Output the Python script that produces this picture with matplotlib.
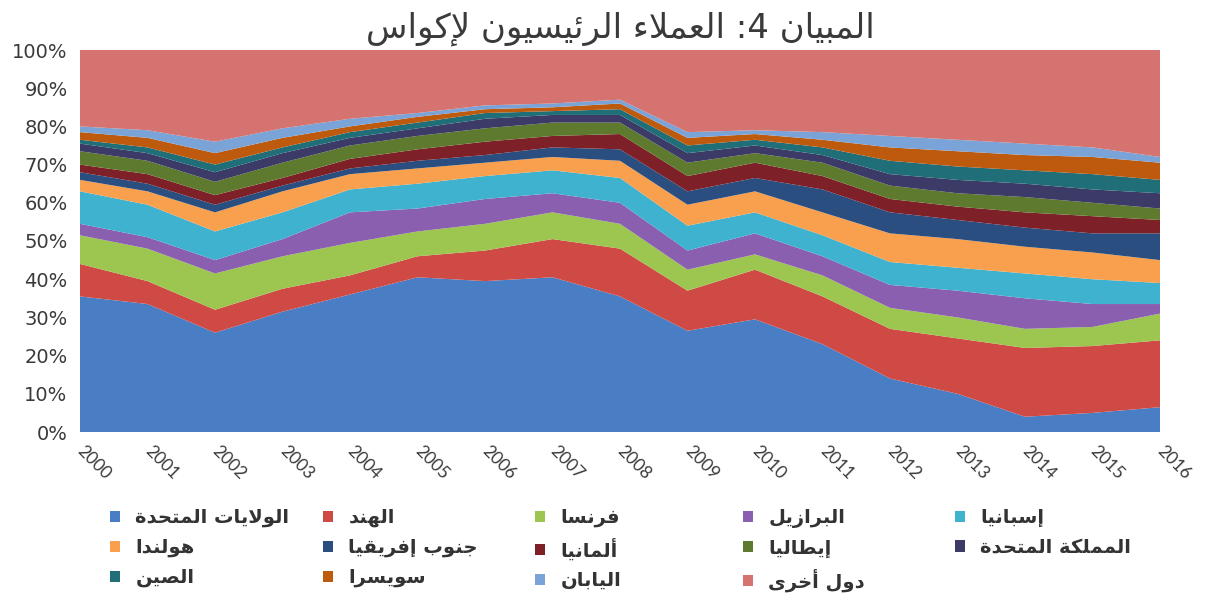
import matplotlib
matplotlib.use("Agg")
import matplotlib.pyplot as plt
from matplotlib.patches import Patch

years = list(range(2000, 2017))

# shares (%), bottom layer first
usa = [35.5, 33.5, 26, 31.5, 36, 40.5, 39.5, 40.5, 35.5, 26.5, 29.5, 23, 14, 10, 4, 5, 6.5]
india = [8.5, 6, 6, 6, 5, 5.5, 8, 10, 12.5, 10.5, 13, 12.5, 13, 14.5, 18, 17.5, 17.5]
france = [7.5, 8.5, 9.5, 8.5, 8.5, 6.5, 7, 7, 6.5, 5.5, 4, 5.5, 5.5, 5.5, 5, 5, 7]
brazil = [3, 3, 3.5, 4.5, 8, 6, 6.5, 5, 5.5, 5, 5.5, 5, 6, 7, 8, 6, 2.5]
spain = [8.5, 8.5, 7.5, 7, 6, 6.5, 6, 6, 6.5, 6.5, 5.5, 5.5, 6, 6, 6.5, 6.5, 5.5]
netherlands = [3, 3.5, 5, 5.5, 4, 4, 3.5, 3.5, 4.5, 5.5, 5.5, 6, 7.5, 7.5, 7, 7, 6]
south_africa = [2, 2, 2, 1.5, 1.5, 2, 2, 2.5, 3, 3.5, 3.5, 6, 5.5, 5, 5, 5, 7]
germany = [2, 2.5, 2.5, 2, 2.5, 3, 3.5, 3, 4, 4, 4, 3.5, 3.5, 3.5, 4, 4.5, 3.5]
italy = [3.5, 3.5, 3.5, 4, 3.5, 3.5, 3.5, 3.5, 3, 3.5, 2.5, 3.5, 3.5, 3.5, 4, 3.5, 3]
uk = [2, 2, 2.5, 2.5, 2, 2, 2.5, 2, 2, 2.5, 2, 2, 3, 3.5, 3.5, 3.5, 4]
china = [1, 1.5, 2, 1.5, 1.5, 1.5, 1.5, 1, 1.5, 2, 1.5, 2, 3.5, 3.5, 3.5, 4, 3.5]
switzerland = [2, 2.5, 3, 2.5, 1.5, 1.5, 1, 1, 1.5, 2, 1.5, 2, 3.5, 4, 4, 4.5, 4.5]
japan = [1.5, 2, 3, 2.5, 2, 1, 1, 1, 1, 1.5, 1, 2, 3, 3, 3, 2.5, 1.5]
others = [20, 21, 24, 20.5, 18, 16.5, 14.5, 14, 13, 21.5, 21, 21.5, 22.5, 23.5, 24.5, 25.5, 28]

names = ["الولايات المتحدة", "الهند", "فرنسا", "البرازيل", "إسبانيا",
         "هولندا", "جنوب إفريقيا", "ألمانيا", "إيطاليا", "المملكة المتحدة",
         "الصين", "سويسرا", "اليابان", "دول أخرى"]
title = "المبيان 4: العملاء الرئيسيون لإكواس"

colors = ["#4A7EC4", "#D04A45", "#9CC650", "#8A5FB0", "#3FB2D0",
          "#F9A04E", "#2A4E80", "#7E2028", "#5E7A2E", "#3C3A66",
          "#1F6E78", "#BD5A0E", "#7AA3D8", "#D4736F"]

# --- minimal arabic shaping + rtl ordering (matplotlib does neither) ---
ISO = {'ء': 0xFE80, 'آ': 0xFE81, 'أ': 0xFE83, 'ؤ': 0xFE85, 'إ': 0xFE87, 'ئ': 0xFE89,
       'ا': 0xFE8D, 'ب': 0xFE8F, 'ة': 0xFE93, 'ت': 0xFE95, 'ث': 0xFE99, 'ج': 0xFE9D,
       'ح': 0xFEA1, 'خ': 0xFEA5, 'د': 0xFEA9, 'ذ': 0xFEAB, 'ر': 0xFEAD, 'ز': 0xFEAF,
       'س': 0xFEB1, 'ش': 0xFEB5, 'ص': 0xFEB9, 'ض': 0xFEBD, 'ط': 0xFEC1, 'ظ': 0xFEC5,
       'ع': 0xFEC9, 'غ': 0xFECD, 'ف': 0xFED1, 'ق': 0xFED5, 'ك': 0xFED9, 'ل': 0xFEDD,
       'م': 0xFEE1, 'ن': 0xFEE5, 'ه': 0xFEE9, 'و': 0xFEED, 'ى': 0xFEEF, 'ي': 0xFEF1}
RIGHT_ONLY = set('آأؤإادذرزوةى')
LAM_ALEF = {'آ': 0xFEF5, 'أ': 0xFEF7, 'إ': 0xFEF9, 'ا': 0xFEFB}


def dual(c):
    return c in ISO and c not in RIGHT_ONLY and c != 'ء'


def shape_word(w):
    if not any(c in ISO for c in w):
        # neutral run like "4:" -> colon goes to the left in rtl text
        return w[::-1] if w.endswith(':') else w
    out = []
    i = 0
    while i < len(w):
        c = w[i]
        if c not in ISO:
            out.append(c)
            i += 1
            continue
        linked_prev = i > 0 and dual(w[i - 1]) and c != 'ء'
        if c == 'ل' and i + 1 < len(w) and w[i + 1] in LAM_ALEF:
            out.append(chr(LAM_ALEF[w[i + 1]] + (1 if linked_prev else 0)))
            i += 2
            continue
        nxt = w[i + 1] if i + 1 < len(w) else ''
        linked_next = dual(c) and nxt in ISO and nxt != 'ء'
        if linked_prev and linked_next:
            k = 3
        elif linked_prev:
            k = 1
        elif linked_next:
            k = 2
        else:
            k = 0
        out.append(chr(ISO[c] + k))
        i += 1
    return ''.join(reversed(out))


def ar(text):
    return ' '.join(shape_word(w) for w in reversed(text.split(' ')))


plt.rcParams['font.family'] = ['DejaVu Sans']

fig = plt.figure(figsize=(12.07, 6.03), dpi=100)
ax = fig.add_axes([80 / 1207, 1 - 432 / 603, 1080 / 1207, 382 / 603])

series = [usa, india, france, brazil, spain, netherlands, south_africa, germany,
          italy, uk, china, switzerland, japan, others]
ax.stackplot(years, *series, colors=colors, linewidth=0)

ax.set_xlim(2000, 2016)
ax.set_ylim(0, 100)
ax.set_yticks(range(0, 101, 10))
ax.set_yticklabels([f"{v}%" for v in range(0, 101, 10)], fontsize=14,
                   color="#3a3a3a")
ax.set_xticks(years)
ax.set_xticklabels([str(y) for y in years], rotation=-45, ha='left',
                   va='center', rotation_mode='anchor', fontsize=12.5,
                   color="#3a3a3a", family=['Lato', 'DejaVu Sans'])
ax.tick_params(length=0)
ax.tick_params(axis='y', pad=9)
ax.tick_params(axis='x', pad=12)
for s in ax.spines.values():
    s.set_visible(False)

ax.set_title(ar(title), fontsize=24.5, color="#3a3a3a", pad=9)

# legend laid out row by row in five fixed columns
col_x = [110, 323, 535, 743, 955]
for c in range(5):
    idx = [r * 5 + c for r in range(3) if r * 5 + c < len(names)]
    handles = [Patch(facecolor=colors[i], edgecolor='none') for i in idx]
    labels = [ar(names[i]) for i in idx]
    leg = fig.legend(handles, labels, loc='upper left',
                     bbox_to_anchor=(col_x[c] / 1207, 1 - 508 / 603),
                     frameon=False, borderpad=0, borderaxespad=0,
                     handlelength=0.5, handleheight=0.5, handletextpad=0.8,
                     labelspacing=0.55, prop={'size': 14, 'weight': 'bold'})
    for t in leg.get_texts():
        t.set_color("#333333")

fig.savefig("out.png", dpi=100, facecolor='white')
